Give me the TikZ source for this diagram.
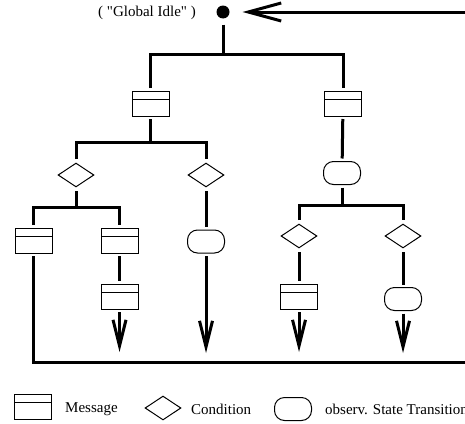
\documentclass[tikz,border=0pt]{standalone}
\usepackage{fontspec}
\setmainfont{Liberation Serif}
\newfontfamily\plainserif{Liberation Serif}
\usetikzlibrary{arrows.meta,shapes.geometric}
\begin{document}
\begin{tikzpicture}[x=1pt,y=-1pt,
  msg/.style={draw,line width=1pt,minimum width=37pt,minimum height=25pt,inner sep=0pt,outer sep=3pt,
    path picture={\draw[line width=1pt] ([yshift=-8pt]path picture bounding box.north west) -- ([yshift=-8pt]path picture bounding box.north east);}},
  cond/.style={draw,line width=1pt,diamond,minimum width=38pt,minimum height=26pt,inner sep=0pt,outer sep=3pt},
  trans/.style={draw,line width=1pt,rounded corners=10pt,minimum width=37pt,minimum height=23pt,inner sep=0pt,outer sep=3pt},
  conn/.style={line width=3pt,line join=miter},
  down/.style={conn,-{Straight Barb[length=26pt,width=13pt]}},
  lbl/.style={font=\fontsize{15pt}{17pt}\selectfont,inner sep=0pt,anchor=west}
  ]
\useasboundingbox (0,0) rectangle (465,423);
% start
\node[circle,fill,inner sep=0pt,minimum size=13pt,outer sep=6pt] (dot) at (223,12) {};
\node[font=\plainserif\fontsize{15pt}{17pt}\selectfont,inner sep=0pt] (gi) at (147,13) {( "Global Idle" )};
% level 1
\node[msg] (m1) at (150.5,103.5) {};
\node[msg] (m2) at (343,103.5) {};
% level 2
\node[cond] (c1) at (76,175) {};
\node[cond] (c2) at (206,175) {};
\node[trans] (s1) at (342,173) {};
% level 3
\node[msg] (m3) at (33.5,240.5) {};
\node[msg] (m4) at (119.5,240.5) {};
\node[trans] (s2) at (206,241.5) {};
\node[cond] (c3) at (299,236) {};
\node[cond] (c4) at (403,236) {};
% level 4
\node[msg] (m5) at (119.5,296.5) {};
\node[msg] (m6) at (299,296.5) {};
\node[trans] (s3) at (403,299) {};
% junctions and ends
\coordinate (j1) at (223,54);
\coordinate (j2) at (150.5,142);
\coordinate (j3) at (342,205);
\coordinate (j4) at (76,207);
\coordinate (a1) at (119.5,352);
\coordinate (a2) at (206,353);
\coordinate (a3) at (299,352);
\coordinate (a4) at (403,353);
\coordinate (r1) at (475,362);
% connectors
\draw[conn] (dot) -- (j1);
\draw[conn] (m1.north) |- (j1) -| (m2.north);
\draw[conn] (m1) -- (j2);
\draw[conn] (c1.north) |- (j2) -| (c2.north);
\draw[conn] (m2) -- (s1);
\draw[conn] (s1) -- (j3);
\draw[conn] (c3.north) |- (j3) -| (c4.north);
\draw[conn] (c1) -- (j4);
\draw[conn] (m3.north) |- (j4) -| (m4.north);
\draw[conn] (c2) -- (s2);
\draw[conn] (m4) -- (m5);
\draw[conn] (c3) -- (m6);
\draw[conn] (c4) -- (s3);
\draw[down] (m5) -- (a1);
\draw[down] (s2) -- (a2);
\draw[down] (m6) -- (a3);
\draw[down] (s3) -- (a4);
\draw[conn,-{Straight Barb[length=33pt,width=18pt]},shorten >=7pt] (m3.south) |- (r1) |- (dot.east);
% legend
\node[msg] (lm) at (33,407) {};
\node[lbl] (lmt) at (65,409) {Message};
\node[cond] (ld) at (163,408) {};
\node[lbl] (ldt) at (191,409) {Condition};
\node[trans] (lr) at (293,409) {};
\node[lbl] (lrt) at (325,409) {observ. State Transition};
\end{tikzpicture}
\end{document}
